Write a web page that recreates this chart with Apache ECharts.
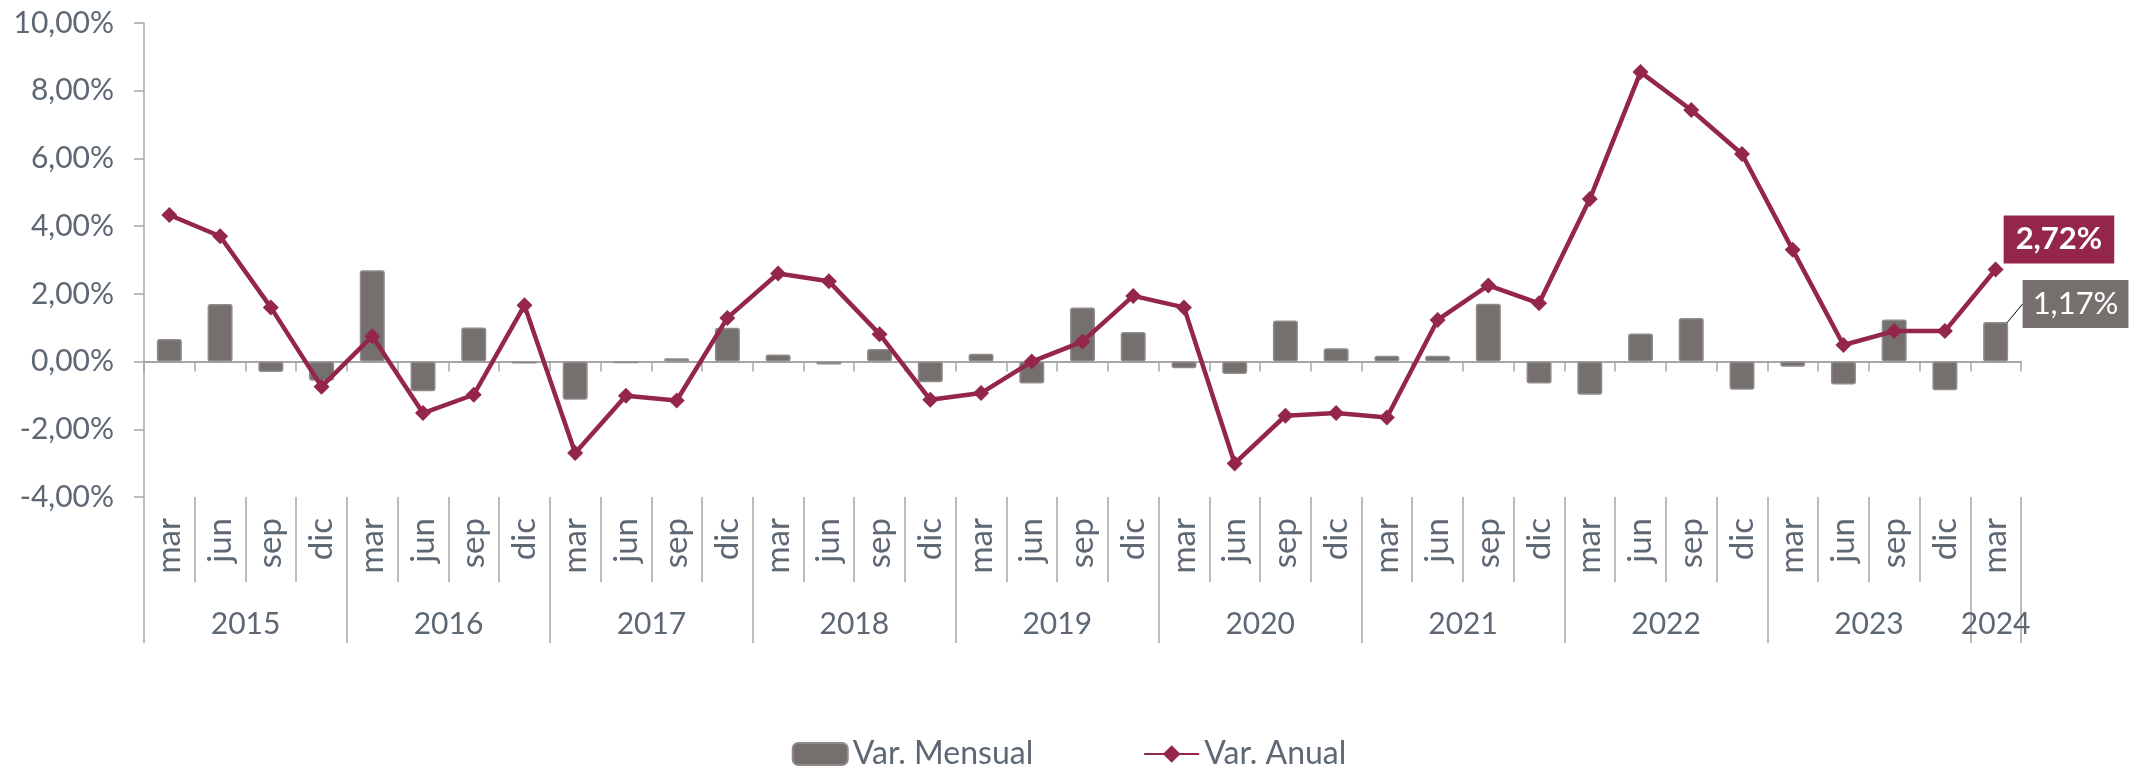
<!DOCTYPE html>
<html>
<head>
<meta charset="utf-8">
<title>Var. Mensual / Var. Anual</title>
<script src="https://cdn.jsdelivr.net/npm/echarts@6/dist/echarts.min.js"></script>
<style>
html, body { margin: 0; padding: 0; background: #fff; }
#chart { width: 2138px; height: 770px; }
</style>
</head>
<body>
<div id="chart"></div>
<script>
// etiquetas del eje
const years = ['2015', '2016', '2017', '2018', '2019', '2020', '2021', '2022', '2023', '2024']
const quarters = ['mar', 'jun', 'sep', 'dic']

// valores en %, de mar 2015 a mar 2024
const varMensual = [
    0.67, 1.70, -0.31, -0.57,
    2.70, -0.88, 1.01, -0.06,
    -1.13, -0.05, 0.10, 1.00,
    0.21, -0.09, 0.37, -0.61,
    0.23, -0.65, 1.60, 0.87,
    -0.20, -0.37, 1.21, 0.39,
    0.17, 0.17, 1.71, -0.65,
    -0.98, 0.83, 1.29, -0.83,
    -0.15, -0.68, 1.24, -0.85,
    1.17
]
const varAnual = [
    4.33, 3.70, 1.60, -0.74,
    0.75, -1.52, -0.98, 1.66,
    -2.70, -1.01, -1.15, 1.29,
    2.60, 2.37, 0.81, -1.13,
    -0.93, 0.00, 0.59, 1.94,
    1.60, -3.01, -1.60, -1.52,
    -1.65, 1.23, 2.25, 1.72,
    4.80, 8.55, 7.43, 6.13,
    3.30, 0.49, 0.90, 0.90,
    2.72
]

// una categoría por trimestre
const categories = []
const categoryYears = []
years.forEach(y => {
    quarters.forEach(q => {
        if (categories.length < varAnual.length) {
            categories.push(q)
            categoryYears.push(y)
        }
    })
})
const last = categories.length - 1

const pct = v => v.toFixed(2).replace('.', ',') + '%'

const textColor = '#5d6874'
const axisColor = '#a6a6a6'
const barColor = '#75706e'
const lineColor = '#93264a'

const chart = echarts.init(document.getElementById('chart'))
chart.setOption({
    animation: false,
    textStyle: { fontFamily: 'Lato' },
    legend: {
        top: 733,
        left: 'center',
        itemWidth: 55,
        itemHeight: 22,
        itemGap: 110,
        textStyle: { fontSize: 32, color: textColor, lineHeight: 30 },
        data: ['Var. Mensual', 'Var. Anual']
    },
    grid: {
        left: 144,
        right: 117,
        top: 23,
        bottom: 273,
        outerBoundsMode: 'none'
    },
    xAxis: [
        {
            // eje sobre el cero
            type: 'category',
            data: categories,
            axisLine: { onZero: true, lineStyle: { color: axisColor, width: 2 } },
            axisTick: { show: true, interval: 0, length: 10, lineStyle: { color: axisColor, width: 1.5 } },
            axisLabel: { show: false }
        },
        {
            // trimestres
            type: 'category',
            data: categories,
            position: 'bottom',
            axisLine: { show: false, onZero: false },
            axisTick: { show: true, interval: 0, length: 85, lineStyle: { color: axisColor, width: 1.5 } },
            axisLabel: { interval: 0, rotate: 90, margin: 21, fontSize: 33, color: textColor }
        },
        {
            // años
            type: 'category',
            data: categoryYears,
            position: 'bottom',
            axisLine: { show: false, onZero: false },
            axisTick: {
                show: true,
                interval: i => i % 4 === 0,
                length: 146,
                lineStyle: { color: axisColor, width: 1.5 }
            },
            axisLabel: {
                interval: 0,
                margin: 112,
                formatter: (value, index) => {
                    if (index === last) return '{z|' + value + '}'
                    if (index % 4 === 1) return '{y|' + value + '}'
                    return ''
                },
                rich: {
                    y: { fontSize: 30, color: textColor, padding: [0, 0, 0, 51] },
                    z: { fontSize: 30, color: textColor }
                }
            }
        }
    ],
    yAxis: {
        type: 'value',
        min: -4,
        max: 10,
        interval: 2,
        axisLine: { show: true, lineStyle: { color: axisColor, width: 1.5 } },
        axisTick: { show: true, length: 10, lineStyle: { color: axisColor, width: 1.5 } },
        splitLine: { show: false },
        axisLabel: { formatter: pct, fontSize: 30, color: textColor, margin: 30 }
    },
    series: [
        {
            name: 'Var. Mensual',
            type: 'bar',
            barWidth: 25,
            itemStyle: { color: barColor, borderRadius: 2, borderColor: '#8f8b8a', borderWidth: 1.5 },
            data: varMensual.map((v, i) => i === last ? { value: v, label: { show: true } } : v),
            label: {
                show: false,
                formatter: p => pct(p.value),
                backgroundColor: barColor,
                color: '#fff',
                fontSize: 31,
                lineHeight: 36,
                padding: [6, 10]
            },
            labelLine: { show: true, lineStyle: { color: '#000', width: 1 } },
            labelLayout: p => {
                const r = p.rect
                const cx = r.x + r.width / 2
                return {
                    x: cx + 27,
                    y: r.y - 18,
                    align: 'left',
                    verticalAlign: 'middle',
                    labelLinePoints: [[cx, r.y + 1], [cx + 15, r.y - 18], [cx + 27, r.y - 18]]
                }
            },
            emphasis: { disabled: true }
        },
        {
            name: 'Var. Anual',
            type: 'line',
            symbol: 'diamond',
            symbolSize: 16,
            itemStyle: { color: lineColor },
            lineStyle: { color: lineColor, width: 4.5 },
            data: varAnual.map((v, i) => i === last ? { value: v, label: { show: true } } : v),
            label: {
                show: false,
                formatter: p => pct(p.value),
                backgroundColor: lineColor,
                color: '#fff',
                fontWeight: 'bold',
                fontSize: 31,
                lineHeight: 36,
                padding: [6, 12]
            },
            labelLayout: p => {
                const r = p.rect
                return {
                    x: r.x + r.width / 2 + 8,
                    y: r.y + r.height / 2 - 30,
                    align: 'left',
                    verticalAlign: 'middle'
                }
            },
            emphasis: { disabled: true }
        }
    ]
})
</script>
</body>
</html>
